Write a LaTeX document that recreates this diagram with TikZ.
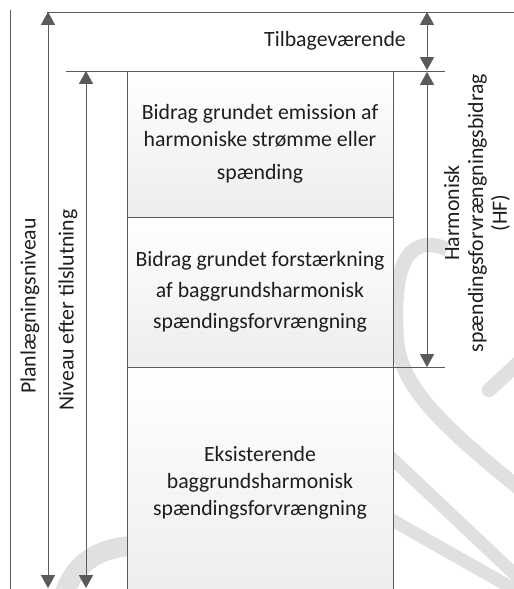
\documentclass[tikz,border=0pt]{standalone}
\usepackage{fontspec}
\setmainfont{Carlito}
\usetikzlibrary{arrows.meta,positioning}
\definecolor{linegray}{HTML}{5A5A5A}
\definecolor{tipgray}{HTML}{404040}
\definecolor{markgray}{HTML}{E0E0E0}
\definecolor{textgray}{HTML}{1E1E1E}

\begin{document}
\begin{tikzpicture}[
  x=0.25mm, y=-0.25mm,
  font=\fontsize{15.5}{19}\selectfont, text=textgray,
  box/.style={draw=linegray, line width=0.6pt, top color=white, bottom color=gray!14,
    minimum width=66.5mm, align=center, inner sep=0pt, outer sep=0pt},
  dimline/.style={{Triangle[length=3.2mm, width=3.5mm]}-{Triangle[length=3.2mm, width=3.5mm]},
    draw=linegray, fill=tipgray, line width=0.5pt},
  guide/.style={draw=linegray, line width=0.5pt},
  wmark/.style={draw=markgray, line width=3.6mm},
]
\useasboundingbox (0,0) rectangle (514,589);

% watermark behind everything
\draw[wmark] (447,249) .. controls (405,232) and (392,270) .. (397,340) .. controls (400,385) and (440,425) .. (524,492);
\draw[wmark, line cap=round] (489,390) -- (524,358);
\draw[wmark, line width=3.2mm] (385,452) -- (526,585);
\draw[wmark, line width=3.2mm] (385,516) -- (526,596);
\draw[wmark, line width=5mm] (64,596) .. controls (72,566) and (96,548) .. (132,546);

% level marks
\coordinate (leftTop) at (10,10);
\coordinate (leftBot) at (10,589);
\coordinate (topL) at (47,12);
\coordinate (topR) at (514,12);
\coordinate (lvlL) at (66,71);
\coordinate (lvlR) at (445,71);
\coordinate (hfL) at (393,367);
\coordinate (hfR) at (445,367);

\draw[guide] (leftTop) -- (leftBot);
\draw[guide] (topL) -- (topR);
\draw[guide] (lvlL) -- (lvlR);

% stacked contributions
\node[box, minimum height=36.5mm, anchor=north west] (emis) at (127,71)
  {Bidrag grundet emission af\\ harmoniske strømme eller\\[5pt] spænding};
\node[box, minimum height=37.5mm, below=0pt of emis] (amp)
  {Bidrag grundet forstærkning\\[3pt] af baggrundsharmonisk\\[3pt] spændingsforvrængning};
\node[box, minimum height=58mm, below=0pt of amp] (bg)
  {Eksisterende\\ baggrundsharmonisk\\ spændingsforvrængning};

\draw[guide] (hfL) -- (hfR);

% dimension arrows
\coordinate (planTop) at (48,12);
\coordinate (planBot) at (48,588);
\coordinate (nivTop) at (86,71);
\coordinate (nivBot) at (86,588);
\coordinate (restTop) at (427,12);
\coordinate (restBot) at (427,70);
\coordinate (hfTop) at (427,72);
\coordinate (hfBot) at (427,367);

\draw[dimline] (planTop) -- (planBot);
\draw[dimline] (nivTop) -- (nivBot);
\draw[dimline] (restTop) -- (restBot);
\draw[dimline] (hfTop) -- (hfBot);

% labels
\node (rest) at (335,41) {Tilbageværende};
\node[rotate=90] (plan) at (30,306) {Planlægningsniveau};
\node[rotate=90] (niv) at (68,310) {Niveau efter tilslutning};
\node[rotate=90, align=center, font=\fontsize{15.5}{17}\selectfont] (hf) at (477,213)
  {Harmonisk\\ spændingsforvrængningsbidrag\\ (HF)};

\end{tikzpicture}
\end{document}
